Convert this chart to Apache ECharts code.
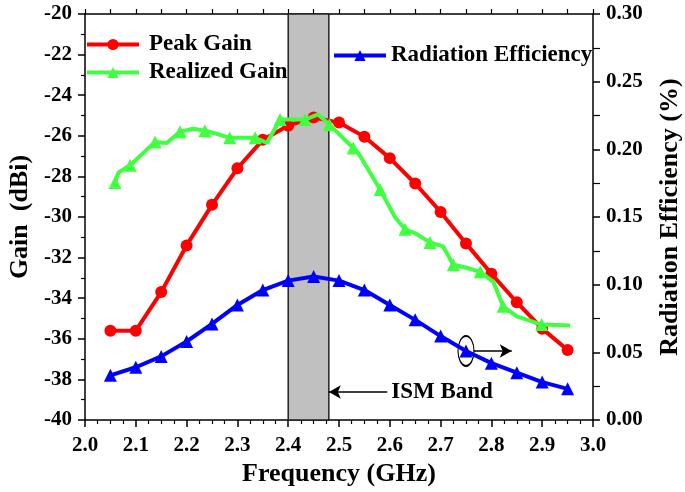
<!DOCTYPE html>
<html>
<head>
<meta charset="utf-8">
<script src="https://cdn.jsdelivr.net/npm/echarts@6/dist/echarts.min.js"></script>
<style>
  html, body { margin: 0; padding: 0; background: #fff; }
  #main { width: 685px; height: 492px; }
</style>
</head>
<body>
<div id="main"></div>
<script>
// frequency points (GHz) for peak gain and radiation efficiency
var freq = [2.05, 2.10, 2.15, 2.20, 2.25, 2.30, 2.35, 2.40, 2.45, 2.50,
            2.55, 2.60, 2.65, 2.70, 2.75, 2.80, 2.85, 2.90, 2.95];
var peakGain = [-35.6, -35.6, -33.7, -31.4, -29.4, -27.6, -26.2, -25.5, -25.1, -25.35,
                -26.05, -27.1, -28.35, -29.75, -31.3, -32.8, -34.2, -35.5, -36.55];
var radEff = [0.033, 0.039, 0.047, 0.058, 0.071, 0.085, 0.096, 0.103, 0.106, 0.103,
              0.096, 0.085, 0.074, 0.062, 0.051, 0.042, 0.035, 0.028, 0.023];

// realized gain is a denser curve, markers only on some vertices
var rgFreq = [2.059, 2.066, 2.089, 2.138, 2.161, 2.187, 2.213, 2.236, 2.259, 2.285,
              2.335, 2.358, 2.384, 2.433, 2.459, 2.481, 2.528, 2.538, 2.581, 2.61,
              2.63, 2.65, 2.679, 2.705, 2.725, 2.751, 2.778, 2.804, 2.823, 2.85,
              2.899, 2.955];
var rgGain = [-28.3, -27.8, -27.45, -26.3, -26.35, -25.8, -25.65, -25.75, -25.9, -26.1,
              -26.1, -26.35, -25.2, -25.2, -24.95, -25.45, -26.6, -26.85, -28.65, -30.0,
              -30.6, -30.8, -31.25, -31.45, -32.35, -32.5, -32.7, -33.2, -34.4, -34.9,
              -35.3, -35.35];
var rgMarkers = [0, 2, 3, 5, 7, 9, 10, 12, 13, 15, 16, 18, 20, 22, 24, 26, 28, 30];

// ISM band and annotations
var ismBand = [2.4, 2.48];
var ismArrow = { from: 2.595, to: 2.48, gain: -38.62 };
var effNote = { freq: 2.75, eff: 0.051, arrowTo: 2.84 };

var gainTicks = { min: -40, max: -20, step: 2 };
var effTicks = { min: 0, max: 0.30, step: 0.05 };
var freqTicks = { min: 2.0, max: 3.0, step: 0.1 };

var FONT = '"Liberation Serif", "Times New Roman", serif';
var labelStyle = { color: '#000', fontFamily: FONT, fontWeight: 'bold', fontSize: 21 };
var nameStyle = { color: '#000', fontFamily: FONT, fontWeight: 'bold', fontSize: 26 };
var legendText = { color: '#000', fontFamily: FONT, fontWeight: 'bold', fontSize: 23 };
var axisLine = { show: true, onZero: false, lineStyle: { color: '#000', width: 1.5 } };

function pairs(xs, ys) {
    return xs.map(function (x, i) { return [x, ys[i]]; });
}

var chart = echarts.init(document.getElementById('main'));
chart.setOption({
    animation: false,
    backgroundColor: '#fff',
    grid: { left: 85, right: 92, top: 14, bottom: 72, containLabel: false, outerBoundsMode: 'none' },
    legend: [{
        data: ['Peak Gain', 'Realized Gain'],
        orient: 'vertical',
        left: 80, top: 28,
        itemWidth: 52, itemHeight: 14, itemGap: 5,
        lineStyle: { width: 4 },
        textStyle: Object.assign({ padding: [0, 0, 0, 5] }, legendText)
    }, {
        data: ['Radiation Efficiency'],
        left: 327, top: 39,
        itemWidth: 52, itemHeight: 14,
        lineStyle: { width: 4 },
        textStyle: legendText
    }],
    xAxis: [{
        type: 'value',
        min: freqTicks.min, max: freqTicks.max, interval: freqTicks.step,
        name: 'Frequency (GHz)', nameLocation: 'middle', nameGap: 38,
        nameTextStyle: nameStyle,
        axisLine: axisLine,
        axisTick: { inside: false, length: 7, lineStyle: { color: '#000', width: 1.5 } },
        minorTick: { show: true, splitNumber: 4, length: 4, lineStyle: { color: '#000', width: 1.2 } },
        axisLabel: Object.assign({ margin: 15, formatter: function (v) { return v.toFixed(1); } }, labelStyle),
        splitLine: { show: false }
    }, {
        type: 'value', position: 'top',
        min: freqTicks.min, max: freqTicks.max, interval: freqTicks.step / 2,
        axisLine: axisLine,
        axisTick: { inside: false, length: 5, lineStyle: { color: '#000', width: 1.2 } },
        axisLabel: { show: false },
        splitLine: { show: false }
    }],
    yAxis: [{
        type: 'value',
        min: gainTicks.min, max: gainTicks.max, interval: gainTicks.step,
        name: 'Gain  (dBi)', nameLocation: 'middle', nameGap: 43,
        nameTextStyle: nameStyle,
        axisLine: axisLine,
        axisTick: { inside: false, length: 7, lineStyle: { color: '#000', width: 1.5 } },
        minorTick: { show: true, splitNumber: 2, length: 4, lineStyle: { color: '#000', width: 1.2 } },
        axisLabel: Object.assign({ margin: 13 }, labelStyle),
        splitLine: { show: false }
    }, {
        type: 'value', position: 'right',
        min: effTicks.min, max: effTicks.max, interval: effTicks.step,
        name: 'Radiation Efficiency (%)', nameLocation: 'middle', nameGap: 64,
        nameRotate: 90,
        nameTextStyle: nameStyle,
        axisLine: axisLine,
        axisTick: { inside: false, length: 7, lineStyle: { color: '#000', width: 1.5 } },
        minorTick: { show: true, splitNumber: 2, length: 7, lineStyle: { color: '#000', width: 1.2 } },
        axisLabel: Object.assign({ margin: 13, formatter: function (v) { return v.toFixed(2); } }, labelStyle),
        splitLine: { show: false }
    }],
    series: [{
        // band shading and its label, kept under the curves
        name: 'ISM', type: 'line', data: [], z: 1,
        markArea: {
            silent: true,
            itemStyle: { color: '#c0c0c0', borderColor: '#222', borderWidth: 1.5 },
            data: [[{ xAxis: ismBand[0] }, { xAxis: ismBand[1] }]]
        },
        markLine: {
            silent: true, symbol: ['none', 'arrow'], symbolSize: [10, 12],
            lineStyle: { color: '#000', width: 1.5, type: 'solid' },
            label: { show: true, position: 'start', distance: 4, formatter: 'ISM Band',
                     color: '#000', fontFamily: FONT, fontWeight: 'bold', fontSize: 23 },
            data: [[{ coord: [ismArrow.from, ismArrow.gain] }, { coord: [ismArrow.to, ismArrow.gain] }]]
        }
    }, {
        name: 'Peak Gain', type: 'line', z: 3,
        data: pairs(freq, peakGain),
        symbol: 'circle', symbolSize: 12,
        lineStyle: { color: '#ff0000', width: 4 },
        itemStyle: { color: '#ff0000' }
    }, {
        name: 'Realized Gain', type: 'line', z: 4,
        data: pairs(rgFreq, rgGain),
        symbol: 'triangle', showAllSymbol: true,
        symbolSize: function (v, p) {
            return p && rgMarkers.indexOf(p.dataIndex) >= 0 ? 13 : 0;
        },
        lineStyle: { color: '#40ff40', width: 4 },
        itemStyle: { color: '#40ff40' }
    }, {
        name: 'Radiation Efficiency', type: 'line', z: 5, yAxisIndex: 1,
        data: pairs(freq, radEff),
        symbol: 'triangle', symbolSize: 13,
        lineStyle: { color: '#0000ff', width: 4 },
        itemStyle: { color: '#0000ff' },
        markPoint: {
            silent: true, symbol: 'circle', symbolSize: [16, 30],
            itemStyle: { color: 'rgba(0,0,0,0)', borderColor: '#000', borderWidth: 1.5 },
            label: { show: false },
            data: [{ coord: [effNote.freq, effNote.eff] }]
        },
        markLine: {
            silent: true, symbol: ['none', 'arrow'], symbolSize: [10, 12],
            lineStyle: { color: '#000', width: 1.5, type: 'solid' },
            label: { show: false },
            data: [[{ coord: [effNote.freq + 0.015, effNote.eff] }, { coord: [effNote.arrowTo, effNote.eff] }]]
        }
    }]
});
</script>
</body>
</html>
